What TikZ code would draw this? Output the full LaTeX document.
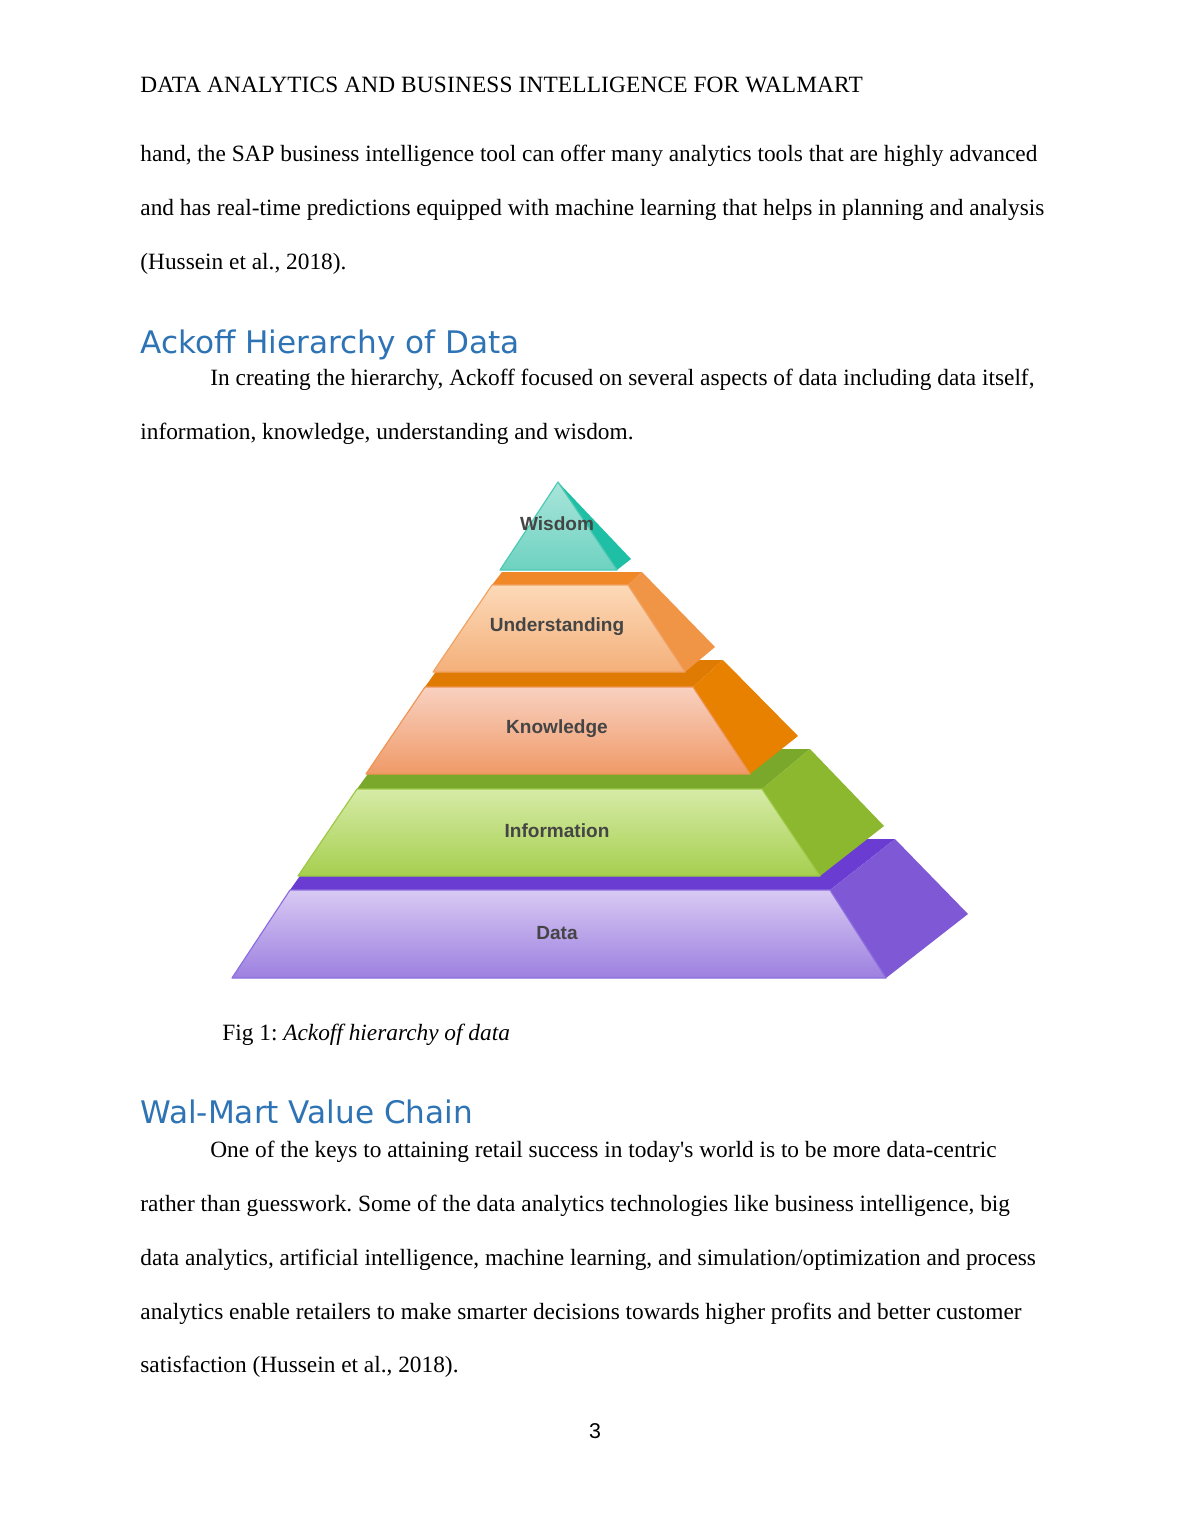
\documentclass[tikz,border=0pt]{standalone}
\usepackage{fontspec}
\setmainfont{Liberation Serif}
\newfontfamily\headfont{DejaVu Sans}
\newfontfamily\labfont{Liberation Sans}
\newfontfamily\hdrfont[LetterSpace=0.7]{Liberation Serif}
\definecolor{headblue}{HTML}{2E74B5}
\definecolor{labgray}{HTML}{454545}
% wisdom
\definecolor{wisT}{HTML}{A9E5DA}
\definecolor{wisB}{HTML}{6ED2C1}
\definecolor{wisS}{HTML}{1FBFA5}
\definecolor{wisL}{HTML}{4CC9B3}
% understanding
\definecolor{undT}{HTML}{FCD9B8}
\definecolor{undB}{HTML}{F4B07A}
\definecolor{undP}{HTML}{F0882A}
\definecolor{undS}{HTML}{F09446}
\definecolor{undL}{HTML}{F0A262}
% knowledge
\definecolor{knoT}{HTML}{F8D1C0}
\definecolor{knoB}{HTML}{F09A68}
\definecolor{knoP}{HTML}{DF7B02}
\definecolor{knoS}{HTML}{E88000}
\definecolor{knoL}{HTML}{EE9455}
% information
\definecolor{infT}{HTML}{D6EBA7}
\definecolor{infB}{HTML}{A6CF4F}
\definecolor{infP}{HTML}{7AA82A}
\definecolor{infS}{HTML}{8BB82E}
\definecolor{infL}{HTML}{9CC845}
% data
\definecolor{datT}{HTML}{D8C9F3}
\definecolor{datB}{HTML}{9D80E0}
\definecolor{datP}{HTML}{6A3CD2}
\definecolor{datS}{HTML}{7F58D6}
\definecolor{datL}{HTML}{8C6EE0}
\frenchspacing
\begin{document}
\begin{tikzpicture}[x=0.514286pt,y=-0.514286pt,
  body/.style={anchor=base west,inner sep=0pt,font=\fontsize{12}{14}\selectfont,text=black},
  head/.style={anchor=base west,inner sep=0pt,font=\headfont\fontsize{16}{19}\selectfont,text=headblue},
  lab/.style={inner sep=0pt,font=\labfont\bfseries\fontsize{9.8}{11}\selectfont,text=labgray},
  pnum/.style={anchor=base,inner sep=0pt,font=\labfont\fontsize{11}{13}\selectfont,text=black},
  face/.style={line width=0.6pt,line join=round}]
\fill[white] (0,0) rectangle (1190,1540);
\useasboundingbox (0,0) rectangle (1190,1540);

% ---------- text ----------
\node[body,font=\hdrfont\fontsize{12}{14}\selectfont] (hdr) at (140,92) {DATA ANALYTICS AND BUSINESS INTELLIGENCE FOR WALMART};
\node[body] (l1) at (140,161) {hand, the SAP business intelligence tool can offer many analytics tools that are highly advanced};
\node[body] (l2) at (140,215) {and has real-time predictions equipped with machine learning that helps in planning and analysis};
\node[body] (l3) at (140,269) {(Hussein et al., 2018).};
\node[head] (h1) at (140,353) {Ackoff Hierarchy of Data};
\node[body] (l4) at (210,385) {In creating the hierarchy, Ackoff focused on several aspects of data including data itself,};
\node[body] (l5) at (140,439) {information, knowledge, understanding and wisdom.};
\node[body] (cap) at (222,1040) {Fig 1: \textit{Ackoff hierarchy of data}};
\node[head] (h2) at (140,1123) {Wal-Mart Value Chain};
\node[body] (l6) at (210,1157) {One of the keys to attaining retail success in today\textquotesingle s world is to be more data-centric};
\node[body] (l7) at (140,1211) {rather than guesswork. Some of the data analytics technologies like business intelligence, big};
\node[body] (l8) at (140,1265) {data analytics, artificial intelligence, machine learning, and simulation/optimization and process};
\node[body] (l9) at (140,1319) {analytics enable retailers to make smarter decisions towards higher profits and better customer};
\node[body] (l10) at (140,1372) {satisfaction (Hussein et al., 2018).};
\node[pnum] (pg) at (595,1438) {3};

% ---------- pyramid ----------
% Data
\fill[datP] (290,890) -- (326,839) -- (895,839) -- (830,890) -- cycle;
\fill[datS] (830,890) -- (895,839) -- (968,914) -- (886,978) -- cycle;
\shade[top color=datT,bottom color=datB] (232,978) -- (886,978) -- (830,890) -- (290,890) -- cycle;
\draw[face,datL] (232,978) -- (886,978) -- (830,890) -- (290,890) -- cycle;
% Information
\fill[infP] (357,789) -- (386,749) -- (810,749) -- (762,789) -- cycle;
\fill[infS] (762,789) -- (810,749) -- (884,826) -- (820,876) -- cycle;
\shade[top color=infT,bottom color=infB] (298,876) -- (820,876) -- (762,789) -- (357,789) -- cycle;
\draw[face,infL] (298,876) -- (820,876) -- (762,789) -- (357,789) -- cycle;
% Knowledge
\fill[knoP] (425,687) -- (444,660) -- (723,660) -- (693,687) -- cycle;
\fill[knoS] (693,687) -- (723,660) -- (798,736) -- (750,774) -- cycle;
\shade[top color=knoT,bottom color=knoB] (366,774) -- (750,774) -- (693,687) -- (425,687) -- cycle;
\draw[face,knoL] (366,774) -- (750,774) -- (693,687) -- (425,687) -- cycle;
% Understanding
\fill[undP] (492,585) -- (502,572) -- (642,572) -- (628,585) -- cycle;
\fill[undS] (628,585) -- (642,572) -- (715,647) -- (685,672) -- cycle;
\shade[top color=undT,bottom color=undB] (433,672) -- (685,672) -- (628,585) -- (492,585) -- cycle;
\draw[face,undL] (433,672) -- (685,672) -- (628,585) -- (492,585) -- cycle;
% Wisdom
\fill[wisS] (558,482) -- (631,559) -- (617,570) -- cycle;
\shade[top color=wisT,bottom color=wisB] (500,570) -- (617,570) -- (558,482) -- cycle;
\draw[face,wisL] (500,570) -- (617,570) -- (558,482) -- cycle;

% labels
\node[lab] (wis) at (557,524) {Wisdom};
\node[lab] (und) at (557,627) {Understanding};
\node[lab] (kno) at (557,729) {Knowledge};
\node[lab] (inf) at (557,831) {Information};
\node[lab] (dat) at (557,933) {Data};
\end{tikzpicture}
\end{document}
